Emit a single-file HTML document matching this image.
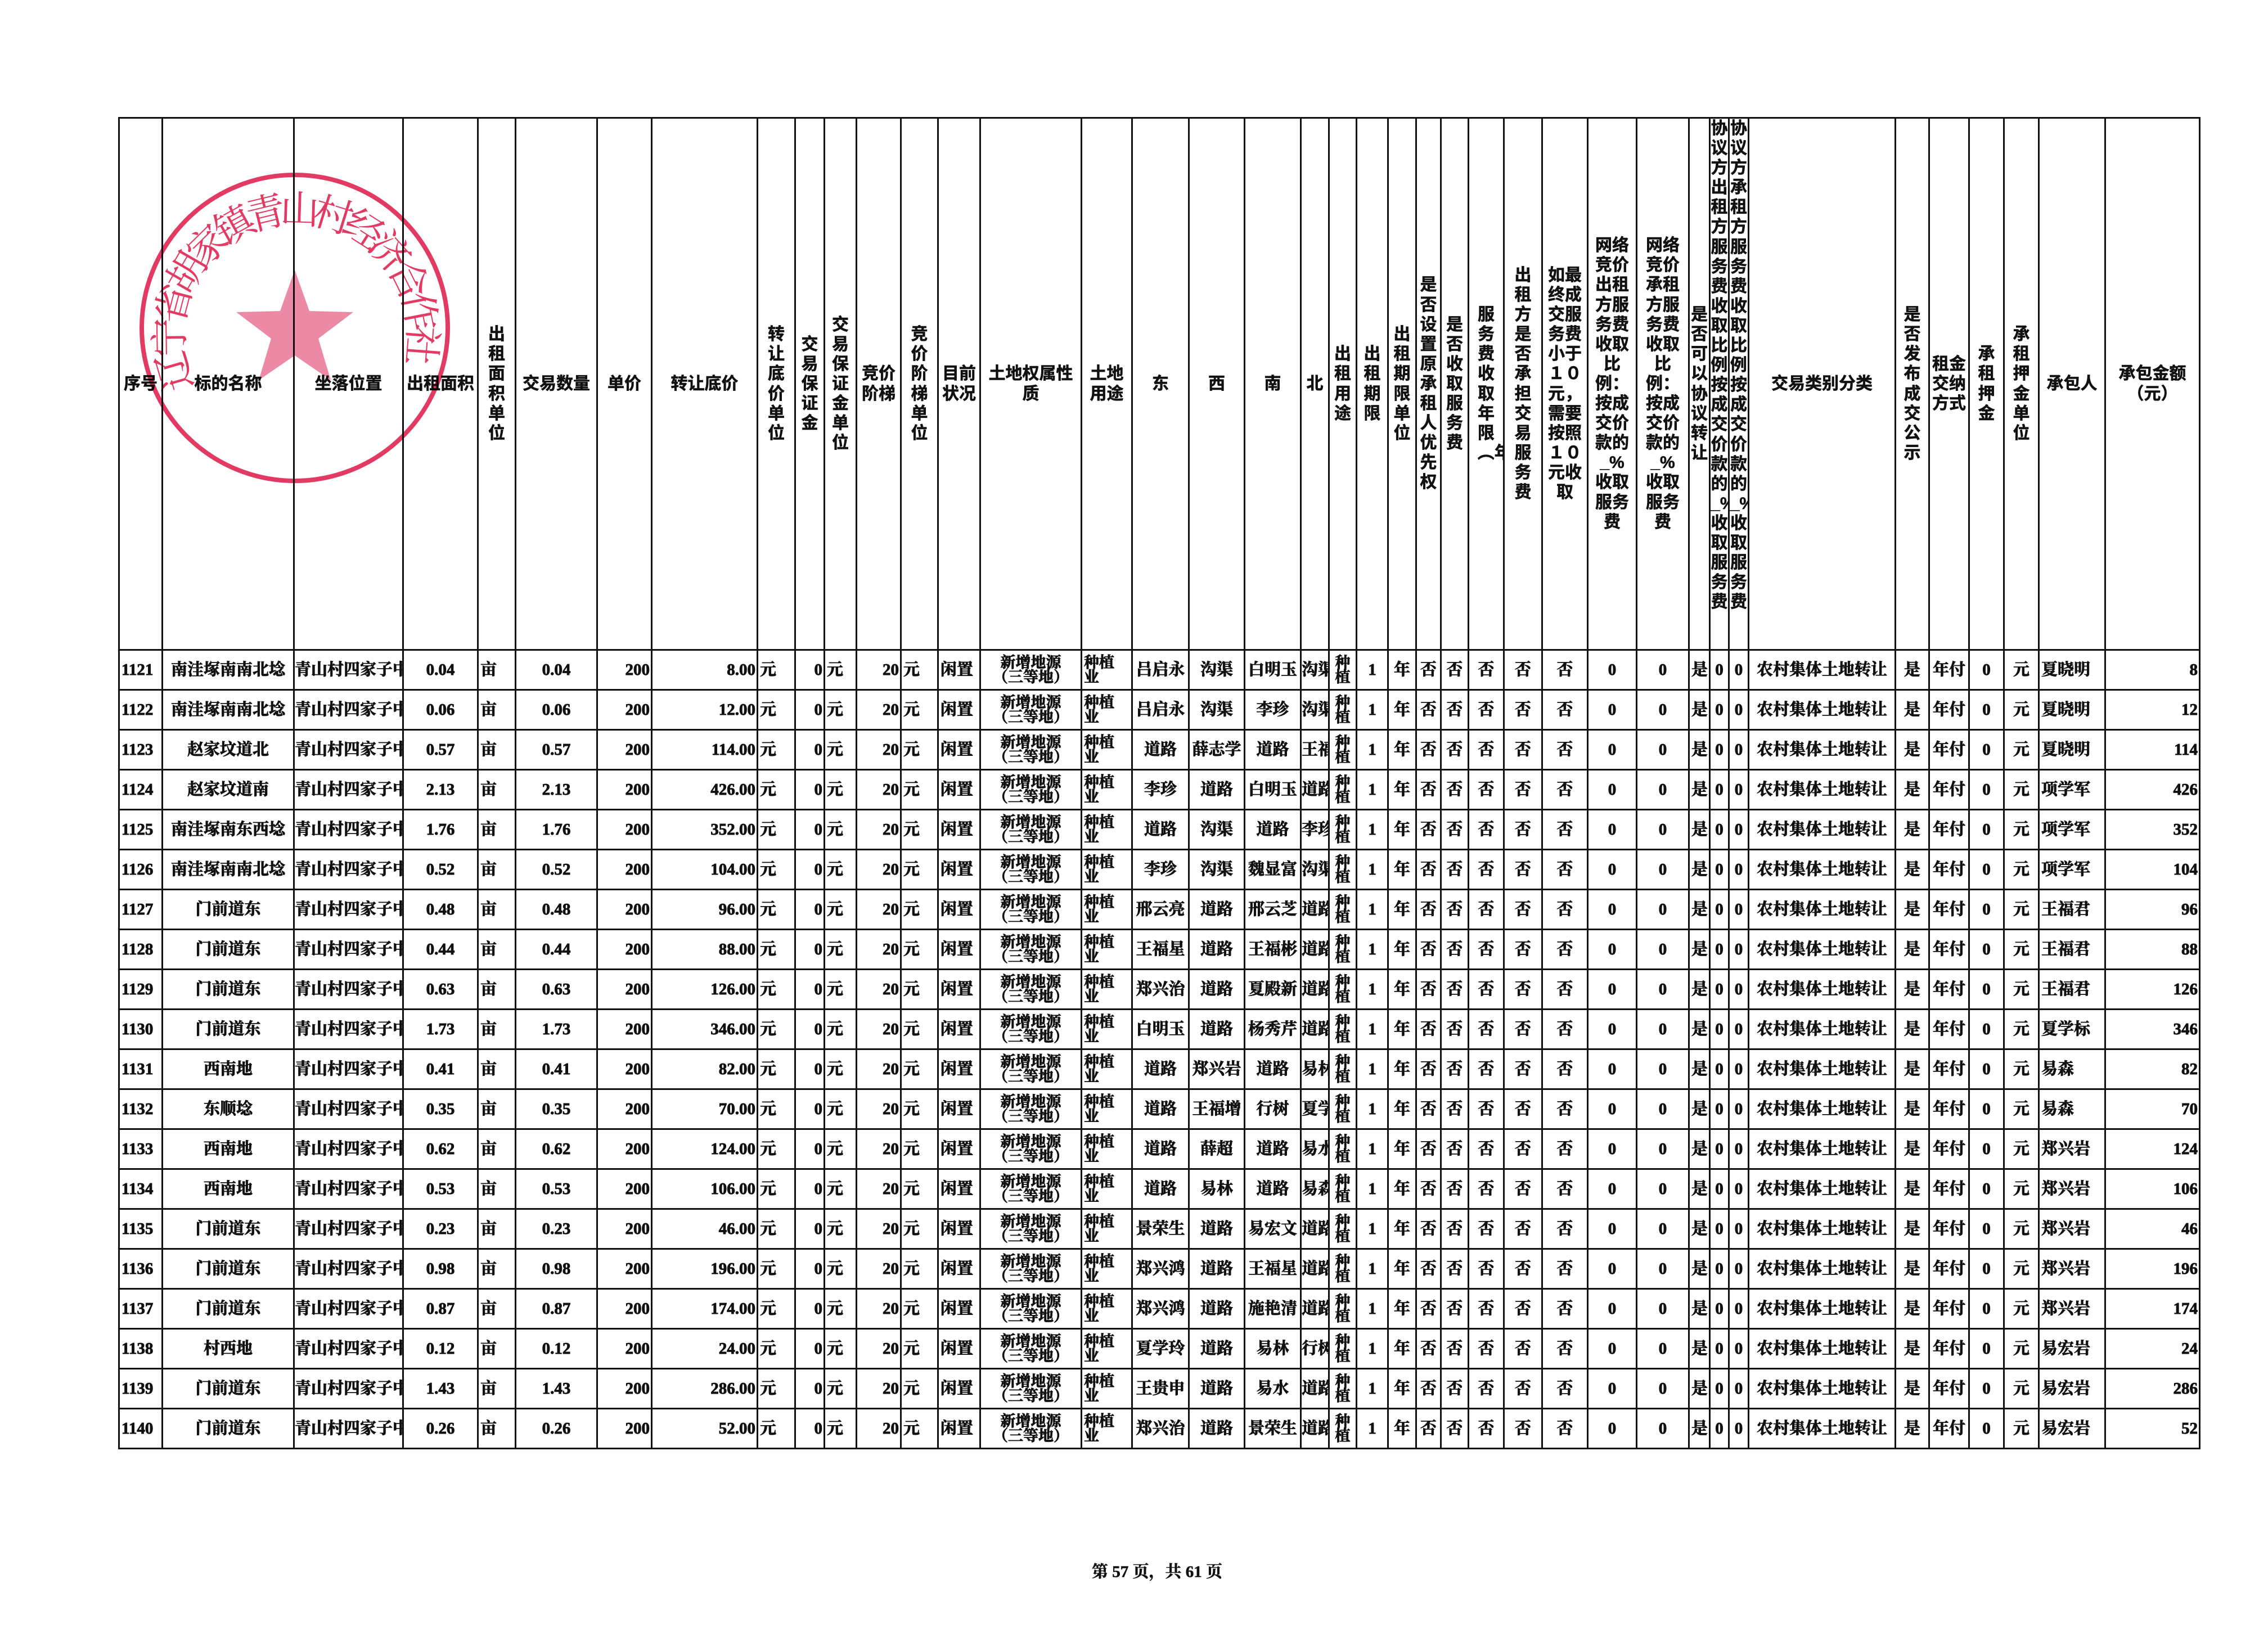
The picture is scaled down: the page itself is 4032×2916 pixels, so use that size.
<!DOCTYPE html>
<html><head><meta charset="utf-8"><style>
html,body{margin:0;padding:0;background:#fff;}
body{width:4032px;height:2916px;position:relative;overflow:hidden;font-family:"Liberation Serif","Noto Serif CJK SC",serif;color:#111;}
table{position:absolute;left:210px;top:208px;border-collapse:collapse;table-layout:fixed;width:3699px;}
td{border:3px solid #111;padding:0;overflow:hidden;white-space:nowrap;text-align:center;vertical-align:middle;font-size:29px;font-weight:bold;height:68px;line-height:1;-webkit-text-stroke:0.9px #111;}
tr.h td{height:943px;font-family:"Liberation Sans","Noto Sans CJK SC",sans-serif;font-size:30px;white-space:normal;-webkit-text-stroke:0.6px #111;}
tr.h td div{margin:0 auto;word-break:break-all;line-height:1.17;}
.v1{width:1.02em}.v2{width:2.05em}
td.l{text-align:left;padding-left:3px}
td.r{text-align:right;padding-right:2px}
td.s{font-size:27px;line-height:0.98;white-space:normal}
td.sl{font-size:27px;line-height:0.98;white-space:normal;text-align:left;padding-left:3px}
.ft{position:absolute;left:1857px;top:2772px;width:400px;text-align:center;font-size:29px;font-weight:bold;font-family:"Liberation Serif","Noto Serif CJK SC",serif;-webkit-text-stroke:0.6px #111;}
svg{position:absolute;left:0;top:0;mix-blend-mode:multiply}
</style></head><body>
<table>
<colgroup><col style="width:77px"><col style="width:234px"><col style="width:194px"><col style="width:133px"><col style="width:67px"><col style="width:145px"><col style="width:97px"><col style="width:188px"><col style="width:67px"><col style="width:52px"><col style="width:57px"><col style="width:79px"><col style="width:66px"><col style="width:75px"><col style="width:180px"><col style="width:90px"><col style="width:101px"><col style="width:99px"><col style="width:100px"><col style="width:50px"><col style="width:49px"><col style="width:56px"><col style="width:50px"><col style="width:44px"><col style="width:49px"><col style="width:63px"><col style="width:68px"><col style="width:81px"><col style="width:87px"><col style="width:93px"><col style="width:37px"><col style="width:34px"><col style="width:35px"><col style="width:261px"><col style="width:60px"><col style="width:71px"><col style="width:62px"><col style="width:62px"><col style="width:118px"><col style="width:168px"></colgroup>
<tr class="h"><td>序号</td><td>标的名称</td><td>坐落位置</td><td>出租面积</td><td><div class="v1">出租面积单位</div></td><td>交易数量</td><td>单价</td><td>转让底价</td><td><div class="v1">转让底价单位</div></td><td><div class="v1">交易保证金</div></td><td><div class="v1">交易保证金单位</div></td><td><div class="v2">竞价阶梯</div></td><td><div class="v1">竞价阶梯单位</div></td><td><div class="v2">目前状况</div></td><td><div style="width:5.1em">土地权属性质</div></td><td><div class="v2">土地用途</div></td><td>东</td><td>西</td><td>南</td><td>北</td><td><div class="v1">出租用途</div></td><td><div class="v1">出租期限</div></td><td><div class="v1">出租期限单位</div></td><td><div class="v1">是否设置原承租人优先权</div></td><td><div class="v1">是否收取服务费</div></td><td><div class="v1">服务费收取年限︵年︶</div></td><td><div class="v1">出租方是否承担交易服务费</div></td><td><div class="v2">如最终成交服务费小于１０元，需要按照１０元收取</div></td><td><div class="v2">网络竞价出租方服务费收取比例：按成交价款的_%收取服务费</div></td><td><div class="v2">网络竞价承租方服务费收取比例：按成交价款的_%收取服务费</div></td><td><div class="v1">是否可以协议转让</div></td><td style="vertical-align:top"><div class="v1">协议方出租方服务费收取比例：按成交价款的_%收取服务费</div></td><td style="vertical-align:top"><div class="v1">协议方承租方服务费收取比例：按成交价款的_%收取服务费</div></td><td>交易类别分类</td><td><div class="v1">是否发布成交公示</div></td><td><div class="v2">租金交纳方式</div></td><td><div class="v1">承租押金</div></td><td><div class="v1">承租押金单位</div></td><td>承包人</td><td><div style="width:4.2em">承包金额（元）</div></td></tr>
<tr><td class="l">1121</td><td>南洼塚南南北埝</td><td>青山村四家子中心</td><td>0.04</td><td class="l">亩</td><td>0.04</td><td class="r">200</td><td class="r">8.00</td><td class="l">元</td><td class="r">0</td><td class="l">元</td><td class="r">20</td><td class="l">元</td><td class="l">闲置</td><td class="s">新增地源<br>（三等地）</td><td class="sl">种植<br>业</td><td>吕启永</td><td>沟渠</td><td>白明玉</td><td>沟渠</td><td class="s">种<br>植</td><td>1</td><td>年</td><td>否</td><td>否</td><td>否</td><td>否</td><td>否</td><td>0</td><td>0</td><td class="l">是</td><td>0</td><td>0</td><td>农村集体土地转让</td><td>是</td><td>年付</td><td>0</td><td>元</td><td class="l">夏晓明</td><td class="r">8</td></tr>
<tr><td class="l">1122</td><td>南洼塚南南北埝</td><td>青山村四家子中心</td><td>0.06</td><td class="l">亩</td><td>0.06</td><td class="r">200</td><td class="r">12.00</td><td class="l">元</td><td class="r">0</td><td class="l">元</td><td class="r">20</td><td class="l">元</td><td class="l">闲置</td><td class="s">新增地源<br>（三等地）</td><td class="sl">种植<br>业</td><td>吕启永</td><td>沟渠</td><td>李珍</td><td>沟渠</td><td class="s">种<br>植</td><td>1</td><td>年</td><td>否</td><td>否</td><td>否</td><td>否</td><td>否</td><td>0</td><td>0</td><td class="l">是</td><td>0</td><td>0</td><td>农村集体土地转让</td><td>是</td><td>年付</td><td>0</td><td>元</td><td class="l">夏晓明</td><td class="r">12</td></tr>
<tr><td class="l">1123</td><td>赵家坟道北</td><td>青山村四家子中心</td><td>0.57</td><td class="l">亩</td><td>0.57</td><td class="r">200</td><td class="r">114.00</td><td class="l">元</td><td class="r">0</td><td class="l">元</td><td class="r">20</td><td class="l">元</td><td class="l">闲置</td><td class="s">新增地源<br>（三等地）</td><td class="sl">种植<br>业</td><td>道路</td><td>薛志学</td><td>道路</td><td>王福</td><td class="s">种<br>植</td><td>1</td><td>年</td><td>否</td><td>否</td><td>否</td><td>否</td><td>否</td><td>0</td><td>0</td><td class="l">是</td><td>0</td><td>0</td><td>农村集体土地转让</td><td>是</td><td>年付</td><td>0</td><td>元</td><td class="l">夏晓明</td><td class="r">114</td></tr>
<tr><td class="l">1124</td><td>赵家坟道南</td><td>青山村四家子中心</td><td>2.13</td><td class="l">亩</td><td>2.13</td><td class="r">200</td><td class="r">426.00</td><td class="l">元</td><td class="r">0</td><td class="l">元</td><td class="r">20</td><td class="l">元</td><td class="l">闲置</td><td class="s">新增地源<br>（三等地）</td><td class="sl">种植<br>业</td><td>李珍</td><td>道路</td><td>白明玉</td><td>道路</td><td class="s">种<br>植</td><td>1</td><td>年</td><td>否</td><td>否</td><td>否</td><td>否</td><td>否</td><td>0</td><td>0</td><td class="l">是</td><td>0</td><td>0</td><td>农村集体土地转让</td><td>是</td><td>年付</td><td>0</td><td>元</td><td class="l">项学军</td><td class="r">426</td></tr>
<tr><td class="l">1125</td><td>南洼塚南东西埝</td><td>青山村四家子中心</td><td>1.76</td><td class="l">亩</td><td>1.76</td><td class="r">200</td><td class="r">352.00</td><td class="l">元</td><td class="r">0</td><td class="l">元</td><td class="r">20</td><td class="l">元</td><td class="l">闲置</td><td class="s">新增地源<br>（三等地）</td><td class="sl">种植<br>业</td><td>道路</td><td>沟渠</td><td>道路</td><td>李珍</td><td class="s">种<br>植</td><td>1</td><td>年</td><td>否</td><td>否</td><td>否</td><td>否</td><td>否</td><td>0</td><td>0</td><td class="l">是</td><td>0</td><td>0</td><td>农村集体土地转让</td><td>是</td><td>年付</td><td>0</td><td>元</td><td class="l">项学军</td><td class="r">352</td></tr>
<tr><td class="l">1126</td><td>南洼塚南南北埝</td><td>青山村四家子中心</td><td>0.52</td><td class="l">亩</td><td>0.52</td><td class="r">200</td><td class="r">104.00</td><td class="l">元</td><td class="r">0</td><td class="l">元</td><td class="r">20</td><td class="l">元</td><td class="l">闲置</td><td class="s">新增地源<br>（三等地）</td><td class="sl">种植<br>业</td><td>李珍</td><td>沟渠</td><td>魏显富</td><td>沟渠</td><td class="s">种<br>植</td><td>1</td><td>年</td><td>否</td><td>否</td><td>否</td><td>否</td><td>否</td><td>0</td><td>0</td><td class="l">是</td><td>0</td><td>0</td><td>农村集体土地转让</td><td>是</td><td>年付</td><td>0</td><td>元</td><td class="l">项学军</td><td class="r">104</td></tr>
<tr><td class="l">1127</td><td>门前道东</td><td>青山村四家子中心</td><td>0.48</td><td class="l">亩</td><td>0.48</td><td class="r">200</td><td class="r">96.00</td><td class="l">元</td><td class="r">0</td><td class="l">元</td><td class="r">20</td><td class="l">元</td><td class="l">闲置</td><td class="s">新增地源<br>（三等地）</td><td class="sl">种植<br>业</td><td>邢云亮</td><td>道路</td><td>邢云芝</td><td>道路</td><td class="s">种<br>植</td><td>1</td><td>年</td><td>否</td><td>否</td><td>否</td><td>否</td><td>否</td><td>0</td><td>0</td><td class="l">是</td><td>0</td><td>0</td><td>农村集体土地转让</td><td>是</td><td>年付</td><td>0</td><td>元</td><td class="l">王福君</td><td class="r">96</td></tr>
<tr><td class="l">1128</td><td>门前道东</td><td>青山村四家子中心</td><td>0.44</td><td class="l">亩</td><td>0.44</td><td class="r">200</td><td class="r">88.00</td><td class="l">元</td><td class="r">0</td><td class="l">元</td><td class="r">20</td><td class="l">元</td><td class="l">闲置</td><td class="s">新增地源<br>（三等地）</td><td class="sl">种植<br>业</td><td>王福星</td><td>道路</td><td>王福彬</td><td>道路</td><td class="s">种<br>植</td><td>1</td><td>年</td><td>否</td><td>否</td><td>否</td><td>否</td><td>否</td><td>0</td><td>0</td><td class="l">是</td><td>0</td><td>0</td><td>农村集体土地转让</td><td>是</td><td>年付</td><td>0</td><td>元</td><td class="l">王福君</td><td class="r">88</td></tr>
<tr><td class="l">1129</td><td>门前道东</td><td>青山村四家子中心</td><td>0.63</td><td class="l">亩</td><td>0.63</td><td class="r">200</td><td class="r">126.00</td><td class="l">元</td><td class="r">0</td><td class="l">元</td><td class="r">20</td><td class="l">元</td><td class="l">闲置</td><td class="s">新增地源<br>（三等地）</td><td class="sl">种植<br>业</td><td>郑兴治</td><td>道路</td><td>夏殿新</td><td>道路</td><td class="s">种<br>植</td><td>1</td><td>年</td><td>否</td><td>否</td><td>否</td><td>否</td><td>否</td><td>0</td><td>0</td><td class="l">是</td><td>0</td><td>0</td><td>农村集体土地转让</td><td>是</td><td>年付</td><td>0</td><td>元</td><td class="l">王福君</td><td class="r">126</td></tr>
<tr><td class="l">1130</td><td>门前道东</td><td>青山村四家子中心</td><td>1.73</td><td class="l">亩</td><td>1.73</td><td class="r">200</td><td class="r">346.00</td><td class="l">元</td><td class="r">0</td><td class="l">元</td><td class="r">20</td><td class="l">元</td><td class="l">闲置</td><td class="s">新增地源<br>（三等地）</td><td class="sl">种植<br>业</td><td>白明玉</td><td>道路</td><td>杨秀芹</td><td>道路</td><td class="s">种<br>植</td><td>1</td><td>年</td><td>否</td><td>否</td><td>否</td><td>否</td><td>否</td><td>0</td><td>0</td><td class="l">是</td><td>0</td><td>0</td><td>农村集体土地转让</td><td>是</td><td>年付</td><td>0</td><td>元</td><td class="l">夏学标</td><td class="r">346</td></tr>
<tr><td class="l">1131</td><td>西南地</td><td>青山村四家子中心</td><td>0.41</td><td class="l">亩</td><td>0.41</td><td class="r">200</td><td class="r">82.00</td><td class="l">元</td><td class="r">0</td><td class="l">元</td><td class="r">20</td><td class="l">元</td><td class="l">闲置</td><td class="s">新增地源<br>（三等地）</td><td class="sl">种植<br>业</td><td>道路</td><td>郑兴岩</td><td>道路</td><td>易林</td><td class="s">种<br>植</td><td>1</td><td>年</td><td>否</td><td>否</td><td>否</td><td>否</td><td>否</td><td>0</td><td>0</td><td class="l">是</td><td>0</td><td>0</td><td>农村集体土地转让</td><td>是</td><td>年付</td><td>0</td><td>元</td><td class="l">易森</td><td class="r">82</td></tr>
<tr><td class="l">1132</td><td>东顺埝</td><td>青山村四家子中心</td><td>0.35</td><td class="l">亩</td><td>0.35</td><td class="r">200</td><td class="r">70.00</td><td class="l">元</td><td class="r">0</td><td class="l">元</td><td class="r">20</td><td class="l">元</td><td class="l">闲置</td><td class="s">新增地源<br>（三等地）</td><td class="sl">种植<br>业</td><td>道路</td><td>王福增</td><td>行树</td><td>夏学</td><td class="s">种<br>植</td><td>1</td><td>年</td><td>否</td><td>否</td><td>否</td><td>否</td><td>否</td><td>0</td><td>0</td><td class="l">是</td><td>0</td><td>0</td><td>农村集体土地转让</td><td>是</td><td>年付</td><td>0</td><td>元</td><td class="l">易森</td><td class="r">70</td></tr>
<tr><td class="l">1133</td><td>西南地</td><td>青山村四家子中心</td><td>0.62</td><td class="l">亩</td><td>0.62</td><td class="r">200</td><td class="r">124.00</td><td class="l">元</td><td class="r">0</td><td class="l">元</td><td class="r">20</td><td class="l">元</td><td class="l">闲置</td><td class="s">新增地源<br>（三等地）</td><td class="sl">种植<br>业</td><td>道路</td><td>薛超</td><td>道路</td><td>易水</td><td class="s">种<br>植</td><td>1</td><td>年</td><td>否</td><td>否</td><td>否</td><td>否</td><td>否</td><td>0</td><td>0</td><td class="l">是</td><td>0</td><td>0</td><td>农村集体土地转让</td><td>是</td><td>年付</td><td>0</td><td>元</td><td class="l">郑兴岩</td><td class="r">124</td></tr>
<tr><td class="l">1134</td><td>西南地</td><td>青山村四家子中心</td><td>0.53</td><td class="l">亩</td><td>0.53</td><td class="r">200</td><td class="r">106.00</td><td class="l">元</td><td class="r">0</td><td class="l">元</td><td class="r">20</td><td class="l">元</td><td class="l">闲置</td><td class="s">新增地源<br>（三等地）</td><td class="sl">种植<br>业</td><td>道路</td><td>易林</td><td>道路</td><td>易森</td><td class="s">种<br>植</td><td>1</td><td>年</td><td>否</td><td>否</td><td>否</td><td>否</td><td>否</td><td>0</td><td>0</td><td class="l">是</td><td>0</td><td>0</td><td>农村集体土地转让</td><td>是</td><td>年付</td><td>0</td><td>元</td><td class="l">郑兴岩</td><td class="r">106</td></tr>
<tr><td class="l">1135</td><td>门前道东</td><td>青山村四家子中心</td><td>0.23</td><td class="l">亩</td><td>0.23</td><td class="r">200</td><td class="r">46.00</td><td class="l">元</td><td class="r">0</td><td class="l">元</td><td class="r">20</td><td class="l">元</td><td class="l">闲置</td><td class="s">新增地源<br>（三等地）</td><td class="sl">种植<br>业</td><td>景荣生</td><td>道路</td><td>易宏文</td><td>道路</td><td class="s">种<br>植</td><td>1</td><td>年</td><td>否</td><td>否</td><td>否</td><td>否</td><td>否</td><td>0</td><td>0</td><td class="l">是</td><td>0</td><td>0</td><td>农村集体土地转让</td><td>是</td><td>年付</td><td>0</td><td>元</td><td class="l">郑兴岩</td><td class="r">46</td></tr>
<tr><td class="l">1136</td><td>门前道东</td><td>青山村四家子中心</td><td>0.98</td><td class="l">亩</td><td>0.98</td><td class="r">200</td><td class="r">196.00</td><td class="l">元</td><td class="r">0</td><td class="l">元</td><td class="r">20</td><td class="l">元</td><td class="l">闲置</td><td class="s">新增地源<br>（三等地）</td><td class="sl">种植<br>业</td><td>郑兴鸿</td><td>道路</td><td>王福星</td><td>道路</td><td class="s">种<br>植</td><td>1</td><td>年</td><td>否</td><td>否</td><td>否</td><td>否</td><td>否</td><td>0</td><td>0</td><td class="l">是</td><td>0</td><td>0</td><td>农村集体土地转让</td><td>是</td><td>年付</td><td>0</td><td>元</td><td class="l">郑兴岩</td><td class="r">196</td></tr>
<tr><td class="l">1137</td><td>门前道东</td><td>青山村四家子中心</td><td>0.87</td><td class="l">亩</td><td>0.87</td><td class="r">200</td><td class="r">174.00</td><td class="l">元</td><td class="r">0</td><td class="l">元</td><td class="r">20</td><td class="l">元</td><td class="l">闲置</td><td class="s">新增地源<br>（三等地）</td><td class="sl">种植<br>业</td><td>郑兴鸿</td><td>道路</td><td>施艳清</td><td>道路</td><td class="s">种<br>植</td><td>1</td><td>年</td><td>否</td><td>否</td><td>否</td><td>否</td><td>否</td><td>0</td><td>0</td><td class="l">是</td><td>0</td><td>0</td><td>农村集体土地转让</td><td>是</td><td>年付</td><td>0</td><td>元</td><td class="l">郑兴岩</td><td class="r">174</td></tr>
<tr><td class="l">1138</td><td>村西地</td><td>青山村四家子中心</td><td>0.12</td><td class="l">亩</td><td>0.12</td><td class="r">200</td><td class="r">24.00</td><td class="l">元</td><td class="r">0</td><td class="l">元</td><td class="r">20</td><td class="l">元</td><td class="l">闲置</td><td class="s">新增地源<br>（三等地）</td><td class="sl">种植<br>业</td><td>夏学玲</td><td>道路</td><td>易林</td><td>行树</td><td class="s">种<br>植</td><td>1</td><td>年</td><td>否</td><td>否</td><td>否</td><td>否</td><td>否</td><td>0</td><td>0</td><td class="l">是</td><td>0</td><td>0</td><td>农村集体土地转让</td><td>是</td><td>年付</td><td>0</td><td>元</td><td class="l">易宏岩</td><td class="r">24</td></tr>
<tr><td class="l">1139</td><td>门前道东</td><td>青山村四家子中心</td><td>1.43</td><td class="l">亩</td><td>1.43</td><td class="r">200</td><td class="r">286.00</td><td class="l">元</td><td class="r">0</td><td class="l">元</td><td class="r">20</td><td class="l">元</td><td class="l">闲置</td><td class="s">新增地源<br>（三等地）</td><td class="sl">种植<br>业</td><td>王贵申</td><td>道路</td><td>易水</td><td>道路</td><td class="s">种<br>植</td><td>1</td><td>年</td><td>否</td><td>否</td><td>否</td><td>否</td><td>否</td><td>0</td><td>0</td><td class="l">是</td><td>0</td><td>0</td><td>农村集体土地转让</td><td>是</td><td>年付</td><td>0</td><td>元</td><td class="l">易宏岩</td><td class="r">286</td></tr>
<tr><td class="l">1140</td><td>门前道东</td><td>青山村四家子中心</td><td>0.26</td><td class="l">亩</td><td>0.26</td><td class="r">200</td><td class="r">52.00</td><td class="l">元</td><td class="r">0</td><td class="l">元</td><td class="r">20</td><td class="l">元</td><td class="l">闲置</td><td class="s">新增地源<br>（三等地）</td><td class="sl">种植<br>业</td><td>郑兴治</td><td>道路</td><td>景荣生</td><td>道路</td><td class="s">种<br>植</td><td>1</td><td>年</td><td>否</td><td>否</td><td>否</td><td>否</td><td>否</td><td>0</td><td>0</td><td class="l">是</td><td>0</td><td>0</td><td>农村集体土地转让</td><td>是</td><td>年付</td><td>0</td><td>元</td><td class="l">易宏岩</td><td class="r">52</td></tr>
</table>
<svg width="4032" height="2916" viewBox="0 0 4032 2916">
<circle cx="524" cy="583" r="272" fill="none" stroke="#e23a62" stroke-width="8"/>
<path id="arc" d="M346.5 685.5 A200 200 0 1 1 722 636" fill="none"/>
<text font-family="Noto Serif CJK SC, serif" font-size="70" fill="#e23a62"><textPath href="#arc" textLength="770" lengthAdjust="spacing">辽宁省胡家镇青山村经济合作社</textPath></text>
<polygon points="524,480 550,553 628,555 566,602 588,676 524,632 460,676 482,602 420,555 498,553" fill="#ec8aa6"/>
</svg>
<div class="ft">第 57 页，共 61 页</div>
</body></html>
